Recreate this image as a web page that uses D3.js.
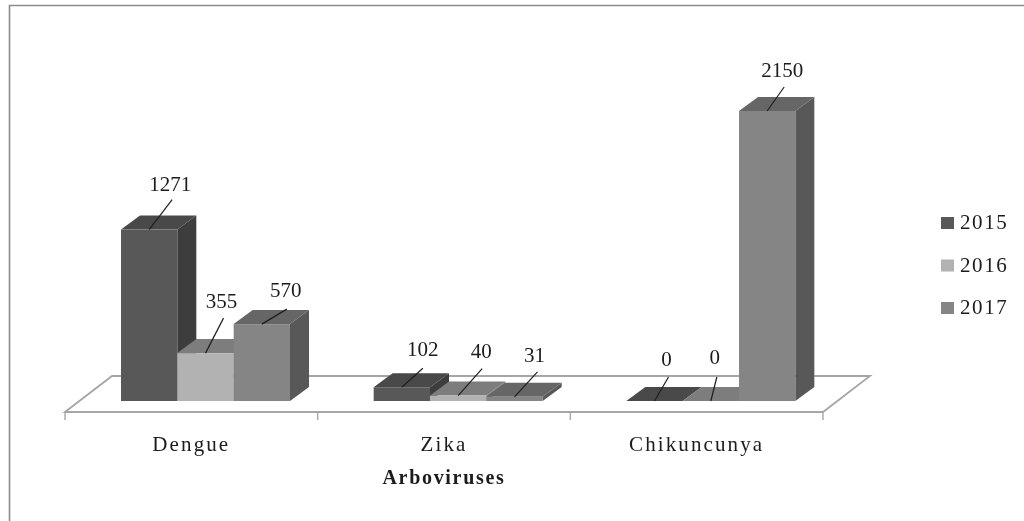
<!DOCTYPE html>
<html><head><meta charset="utf-8">
<script src="https://cdn.jsdelivr.net/npm/d3@7"></script>
<style>
html,body{margin:0;padding:0;background:#fff}
svg{display:block}
text{font-family:"Liberation Serif",serif;fill:#1a1a1a}
</style></head><body><svg id="c" width="1024" height="521"></svg>
<script>
const categories = ["Dengue","Zika","Chikuncunya"];
const years = ["2015","2016","2017"];
const v2015 = [1271,102,0];
const v2016 = [355,40,0];
const v2017 = [570,31,2150];
const seriesValues = [v2015,v2016,v2017];

const frontColors = ["#595959","#b2b2b2","#858585"];
const topColors   = ["#484848","#7d7d7d","#666666"];
const sideColors  = ["#3d3d3d","#7a7a7a","#585858"];
// leader-line end offsets (dx, dy) and label offsets from the line end, per series per category
const leaderEnd = [[[23,-30],[21,-19],[14,-24]],[[18,-35],[24,-27],[6,-24]],[[25,-15],[23,-25],[17,-24]]];
const labelOff  = [[[-2,-16],[0,-19],[-2,-18]],[[-2,-17],[-1,-18],[-2,-20]],[[-1,-19],[-3,-17],[-2,-17]]];

const svg = d3.select("#c").append("g").attr("filter","url(#soft)");
const defs = d3.select("#c").append("defs");
defs.append("filter").attr("id","soft").attr("x",0).attr("y",0).attr("width",1).attr("height",1)
  .attr("filterUnits","objectBoundingBox")
  .append("feGaussianBlur").attr("stdDeviation",0.55);
svg.append("rect").attr("width",1024).attr("height",521).attr("fill","#fff");

const x = d3.scaleBand().domain(categories).range([65,823]);
const xs = d3.scaleBand().domain(years).range([56,225]);
const y = d3.scaleLinear().domain([0,2150]).range([401,111]);
const depthX = 19, depthY = 14;

// frame
svg.append("path").attr("d","M9.5,521V5.5H1024").attr("fill","none").attr("stroke","#8c8c8c").attr("stroke-width",1.6);

// floor
const fl = 412, bk = 376, sk = 47;
const xL = x.range()[0], xR = x.range()[1];
svg.append("path").attr("fill","#fff").attr("stroke","#a6a6a6").attr("stroke-width",1.8)
  .attr("d",`M${xL},${fl}L${xL+sk},${bk}H${xR+sk}L${xR},${fl}Z`);
svg.selectAll(".tick-edge").data([...categories.map(c=>x(c)),xR]).join("line")
  .attr("x1",d=>d).attr("x2",d=>d).attr("y1",fl).attr("y2",420)
  .attr("stroke","#a6a6a6").attr("stroke-width",1.4);

// bars
categories.forEach((c,ci)=>{
  years.forEach((yr,si)=>{
    const val = seriesValues[si][ci];
    const x0 = x(c)+xs(yr), w = xs.bandwidth(), t = y(val), b = y(0);
    const g = svg.append("g");
    g.append("path").attr("fill",sideColors[si])
      .attr("d",`M${x0+w},${t}l${depthX},${-depthY}V${b-depthY}L${x0+w},${b}Z`);
    g.append("path").attr("fill",topColors[si])
      .attr("d",`M${x0},${t}l${depthX},${-depthY}h${w}l${-depthX},${depthY}Z`);
    g.append("rect").attr("x",x0).attr("y",t).attr("width",w).attr("height",b-t).attr("fill",frontColors[si]);
  });
});

// leaders and labels
categories.forEach((c,ci)=>{
  years.forEach((yr,si)=>{
    const val = seriesValues[si][ci];
    const cx = x(c)+xs(yr)+xs.bandwidth()/2, t = y(val);
    const [dx,dy] = leaderEnd[si][ci], [lx,ly] = labelOff[si][ci];
    svg.append("line").attr("x1",cx).attr("y1",t).attr("x2",cx+dx).attr("y2",t+dy)
      .attr("stroke","#1f1f1f").attr("stroke-width",1.2);
    svg.append("text").attr("x",cx+dx+lx).attr("y",t+dy+ly).attr("text-anchor","middle")
      .attr("dominant-baseline","central").attr("font-size",21).text(val);
  });
});

// category labels
svg.selectAll(".cat").data(categories).join("text")
  .attr("x",d=>x(d)+x.bandwidth()/2).attr("y",444).attr("text-anchor","middle")
  .attr("dominant-baseline","central").attr("font-size",21).attr("letter-spacing","2.1px").text(d=>d);
svg.append("text").attr("x",444).attr("y",477).attr("text-anchor","middle")
  .attr("dominant-baseline","central").attr("font-size",20).attr("font-weight","bold").attr("letter-spacing","1.7px").text("Arboviruses");

// legend
const ly = d3.scalePoint().domain(years).range([223,308]);
years.forEach((yr,i)=>{
  svg.append("rect").attr("x",941).attr("y",ly(yr)-6).attr("width",13).attr("height",12).attr("fill",frontColors[i]);
  svg.append("text").attr("x",960).attr("y",ly(yr)-1).attr("dominant-baseline","central")
    .attr("font-size",21).attr("letter-spacing","1.6px").text(yr);
});
</script></body></html>
